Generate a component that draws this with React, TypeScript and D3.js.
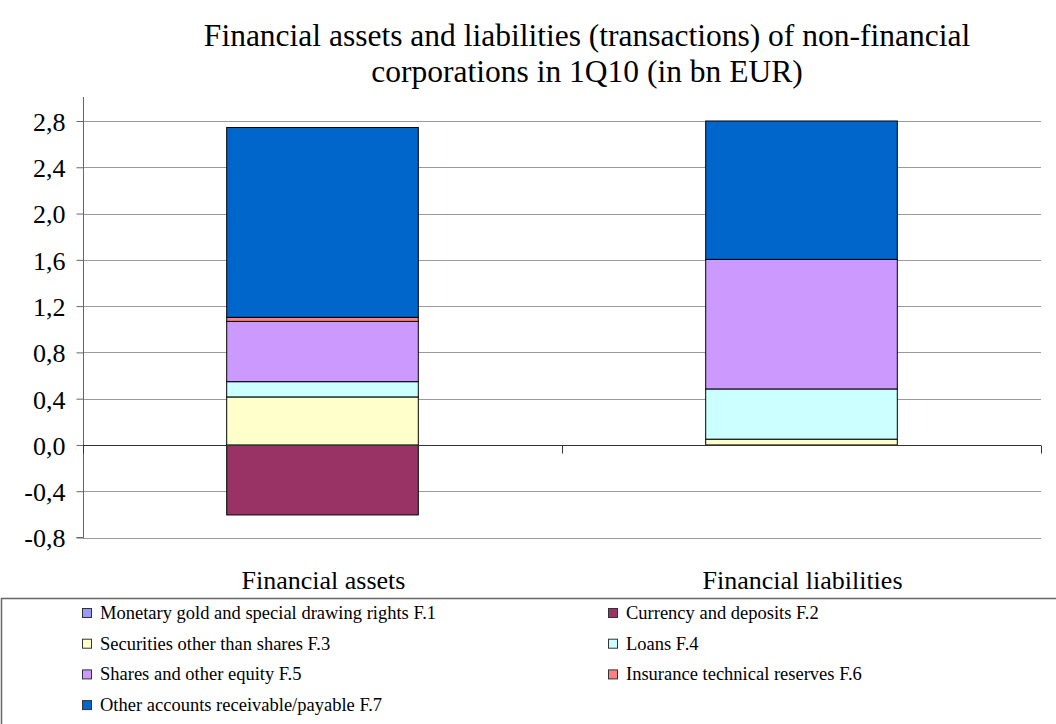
import React, { useEffect, useRef } from 'react';
import * as d3 from 'd3';

const categories = ['Financial assets', 'Financial liabilities'];
const seriesNames = [
  'Monetary gold and special drawing rights F.1',
  'Currency and deposits F.2',
  'Securities other than shares F.3',
  'Loans F.4',
  'Shares and other equity F.5',
  'Insurance technical reserves F.6',
  'Other accounts receivable/payable F.7',
];
const seriesColors = ['#9999ff', '#993366', '#ffffcc', '#ccffff', '#cc99ff', '#ff8080', '#0066cc'];
// values per series: [assets, liabilities]
const f1 = [0, 0];
const f2 = [-0.605, 0];
const f3 = [0.415, 0.05];
const f4 = [0.132, 0.434];
const f5 = [0.521, 1.12];
const f6 = [0.035, 0];
const f7 = [1.641, 1.196];
const seriesValues = [f1, f2, f3, f4, f5, f6, f7];
const yTicks = [-0.8, -0.4, 0, 0.4, 0.8, 1.2, 1.6, 2.0, 2.4, 2.8];

const FONT = "'Liberation Serif', 'Times New Roman', serif";

const App: React.FC = () => {
  const svgRef = useRef<SVGSVGElement>(null);

  useEffect(() => {
    if (!svgRef.current) return;
    const svg = d3.select(svgRef.current);
    svg.selectAll('*').remove();

    const left = 83, right = 1041, top = 97;

    const x = d3.scaleBand<string>().domain(categories).range([left, right]).paddingInner(0.6).paddingOuter(0.3);
    const band = d3.scaleBand<string>().domain(categories).range([left, right]);
    const y = d3.scaleLinear().domain([-0.8, 2.8]).range([537.5, 121]);

    // title
    const title = svg.append('text')
      .attr('text-anchor', 'middle')
      .style('font-family', FONT)
      .attr('font-size', 31.5)
      .attr('fill', '#000');
    title.append('tspan').attr('x', 587).attr('y', 46).text('Financial assets and liabilities (transactions) of non-financial');
    title.append('tspan').attr('x', 587).attr('y', 82).text('corporations in 1Q10 (in bn EUR)');

    // gridlines
    svg.append('g')
      .selectAll('line')
      .data(yTicks.filter(t => t !== 0))
      .join('line')
      .attr('x1', left).attr('x2', right)
      .attr('y1', d => Math.round(y(d)) + 0.5).attr('y2', d => Math.round(y(d)) + 0.5)
      .attr('stroke', '#9a9a9a').attr('stroke-width', 1);

    // stacked bars
    const table = categories.map((c, i) => {
      const row: Record<string, any> = { cat: c };
      seriesNames.forEach((s, j) => { row[s] = seriesValues[j][i]; });
      return row;
    });
    const stack = d3.stack<Record<string, any>>().keys(seriesNames).offset(d3.stackOffsetDiverging);
    const layers = stack(table);

    svg.append('g')
      .selectAll('g')
      .data(layers)
      .join('g')
      .attr('fill', (_, i) => seriesColors[i])
      .selectAll('rect')
      .data(d => d.filter(p => p[1] - p[0] !== 0))
      .join('rect')
      .attr('x', d => x(d.data.cat as string)!)
      .attr('width', x.bandwidth())
      .attr('y', d => y(Math.max(d[0], d[1])))
      .attr('height', d => Math.abs(y(d[0]) - y(d[1])))
      .attr('stroke', '#000')
      .attr('stroke-width', 1);

    // y axis
    const yAxis = svg.append('g')
      .attr('transform', `translate(${left + 0.5},0)`)
      .call(d3.axisLeft(y).tickValues(yTicks).tickSize(7).tickPadding(11)
        .tickFormat(d => d3.format('.1f')(d as number).replace('.', ',').replace('−', '-')));
    yAxis.select('.domain').attr('stroke', '#666').attr('d', `M-7,${y(-0.8)}H0V${top}`);
    yAxis.selectAll('.tick line').attr('stroke', '#666');
    yAxis.selectAll('text').style('font-family', FONT).attr('font-size', 26).attr('fill', '#000').attr('dy', '0.36em');

    // zero line with category ticks
    const zy = Math.round(y(0)) + 0.5;
    svg.append('line').attr('x1', left).attr('x2', right).attr('y1', zy).attr('y2', zy)
      .attr('stroke', '#333').attr('stroke-width', 1);
    const catTicks = [left, ...categories.map(c => band(c)! + band.bandwidth())];
    svg.append('g').selectAll('line').data(catTicks).join('line')
      .attr('x1', d => Math.round(d) + 0.5).attr('x2', d => Math.round(d) + 0.5)
      .attr('y1', zy).attr('y2', zy + 8)
      .attr('stroke', '#333');

    // category labels
    svg.append('g').selectAll('text').data(categories).join('text')
      .attr('x', d => band(d)! + band.bandwidth() / 2 + 1)
      .attr('y', 589)
      .attr('text-anchor', 'middle')
      .style('font-family', FONT).attr('font-size', 26)
      .text(d => d);

    // legend
    svg.append('rect').attr('x', 1.5).attr('y', 598.5).attr('width', 1080).attr('height', 200)
      .attr('fill', '#fff').attr('stroke', '#666').attr('stroke-width', 1.5);
    const leg = svg.append('g').selectAll('g').data(seriesNames).join('g')
      .attr('transform', (_, i) => `translate(${i % 2 === 0 ? 82 : 608},${613 + Math.floor(i / 2) * 30.7})`);
    leg.append('rect').attr('x', 0.5).attr('y', -4.5).attr('width', 9).attr('height', 9)
      .attr('fill', (_, i) => seriesColors[i]).attr('stroke', '#333').attr('stroke-width', 1);
    leg.append('text').attr('x', 18).attr('y', 6)
      .style('font-family', FONT).attr('font-size', 18.5)
      .text(d => d);
  }, []);

  return (
    <svg ref={svgRef} width={1056} height={724} style={{ position: 'absolute', left: 0, top: 0, background: '#fff' }} />
  );
};

export default App;
